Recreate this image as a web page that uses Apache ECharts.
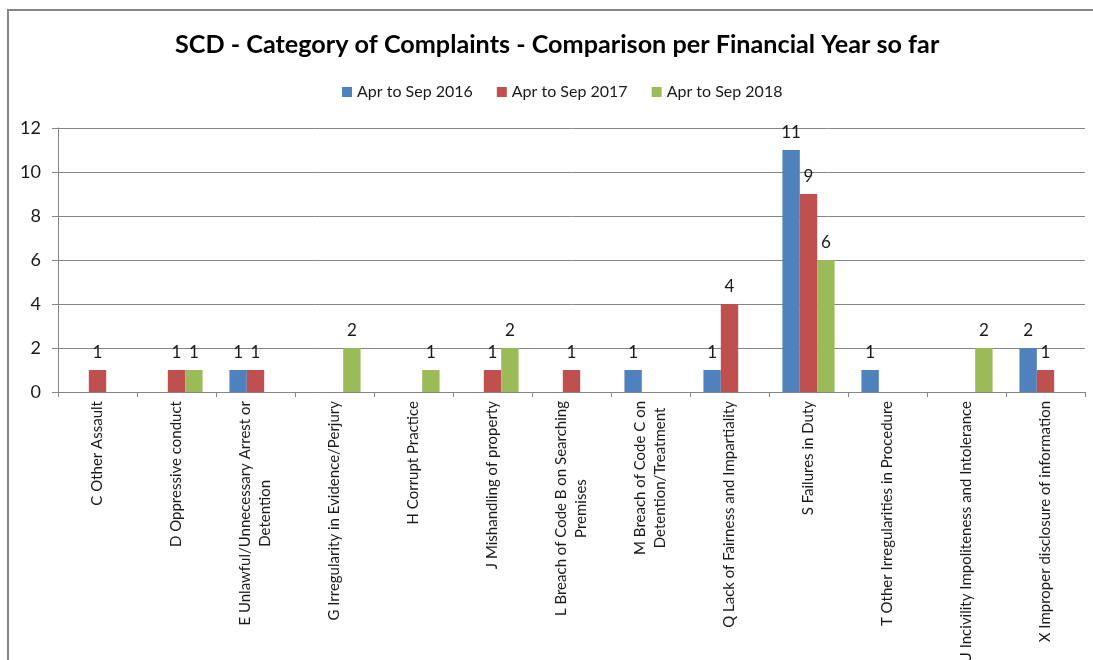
<!DOCTYPE html>
<html>
<head>
<meta charset="utf-8">
<script src="https://cdn.jsdelivr.net/npm/echarts@6/dist/echarts.min.js"></script>
<style>
html,body{margin:0;padding:0;background:#fff;}
#chart{width:1093px;height:660px;}
</style>
</head>
<body>
<div id="chart"></div>
<script>
const categories = [
  'C Other Assault',
  'D Oppressive conduct',
  'E Unlawful/Unnecessary Arrest or\nDetention',
  'G Irregularity in Evidence/Perjury',
  'H Corrupt Practice',
  'J Mishandling of property',
  'L Breach of Code B on Searching\nPremises',
  'M Breach of Code C on\nDetention/Treatment',
  'Q Lack of Fairness and Impartiality',
  'S Failures in Duty',
  'T Other Irregularities in Procedure',
  'U Incivility Impoliteness and Intolerance',
  'X Improper disclosure of information'
];
const seriesNames = ['Apr to Sep 2016', 'Apr to Sep 2017', 'Apr to Sep 2018'];
const values2016 = [0, 0, 1, 0, 0, 0, 0, 1, 1, 11, 1, 0, 2];
const values2017 = [1, 1, 1, 0, 0, 1, 1, 0, 4, 9, 0, 0, 1];
const values2018 = [0, 1, 0, 2, 1, 2, 0, 0, 0, 6, 0, 2, 0];
const yTicks = { min: 0, max: 12, interval: 2 };

const FONT = 'Lato, "Open Sans", sans-serif';
const colors = ['#4F81BD', '#C0504D', '#9BBB59'];
const axisGray = '#868686';

const chart = echarts.init(document.getElementById('chart'));

function mkSeries(name, data, color) {
  return {
    name: name,
    type: 'bar',
    data: data,
    barGap: '0%',
    barCategoryGap: '34%',
    itemStyle: { color: color },
    label: {
      show: true,
      position: 'top',
      distance: 9,
      fontFamily: FONT,
      fontSize: 17,
      color: '#1a1a1a',
      formatter: p => (p.value > 0 ? String(p.value) : '')
    }
  };
}

chart.setOption({
  animation: false,
  color: colors,
  title: {
    text: 'SCD - Category of Complaints - Comparison per Financial Year so far',
    left: 170,
    top: 27,
    textStyle: { fontFamily: FONT, fontSize: 25.2, fontWeight: 'bold', color: '#000' }
  },
  legend: {
    top: 79,
    left: 337,
    itemWidth: 10,
    itemHeight: 10,
    itemGap: 24,
    icon: 'rect',
    textStyle: { fontFamily: FONT, fontSize: 16, color: '#1a1a1a' },
    data: seriesNames
  },
  grid: { left: 58, right: 8, top: 128, bottom: 268, containLabel: false, outerBoundsMode: 'none' },
  xAxis: {
    type: 'category',
    data: categories,
    axisLine: { lineStyle: { color: axisGray, width: 1 } },
    axisTick: { show: true, length: 5, lineStyle: { color: axisGray } },
    axisLabel: {
      interval: 0,
      rotate: 90,
      margin: 9,
      color: '#1a1a1a',
      fontFamily: FONT,
      fontSize: 15,
      formatter: v => v.split('\n').map(s => '{c|' + s + '}').join('\n'),
      rich: { c: { align: 'center', fontFamily: FONT, fontSize: 15, lineHeight: 20, color: '#1a1a1a' } }
    }
  },
  yAxis: {
    type: 'value',
    min: yTicks.min,
    max: yTicks.max,
    interval: yTicks.interval,
    axisLine: { show: true, lineStyle: { color: axisGray } },
    axisTick: { show: true, length: 6, lineStyle: { color: axisGray } },
    axisLabel: { color: '#1a1a1a', fontFamily: FONT, fontSize: 18, margin: 17 },
    splitLine: { lineStyle: { color: axisGray, width: 1 } }
  },
  graphic: [{
    type: 'rect',
    shape: { x: 8, y: 10, width: 1200, height: 800 },
    style: { fill: 'none', stroke: '#868686', lineWidth: 2 },
    silent: true,
    z: -1
  }],
  series: [
    mkSeries(seriesNames[0], values2016, colors[0]),
    mkSeries(seriesNames[1], values2017, colors[1]),
    mkSeries(seriesNames[2], values2018, colors[2])
  ]
});
</script>
</body>
</html>
